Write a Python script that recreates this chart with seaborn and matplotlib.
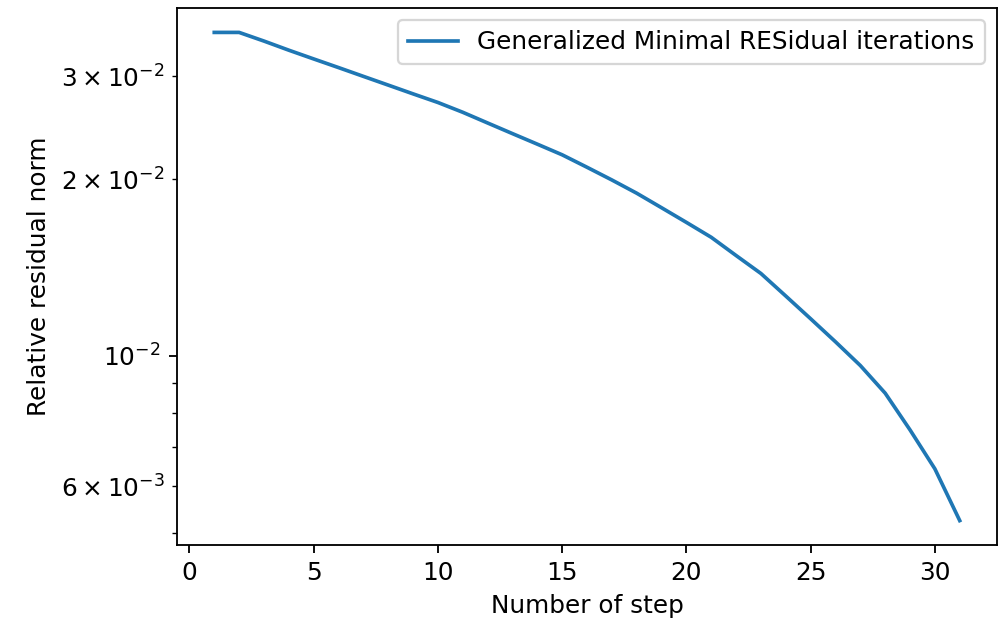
import matplotlib
matplotlib.use("Agg")
import matplotlib.pyplot as plt
import seaborn as sns
import pandas as pd

steps = list(range(1, 32))
residual_norm = [
    0.03560, 0.03560, 0.03441, 0.03320, 0.03208, 0.03101, 0.02996, 0.02895,
    0.02797, 0.02704, 0.02602, 0.02495, 0.02393, 0.02296, 0.02202, 0.02097,
    0.01995, 0.01894, 0.01789, 0.01689, 0.01593, 0.01483, 0.01382, 0.01265,
    0.01157, 0.01057, 0.00963, 0.00864, 0.00748, 0.00642, 0.00524,
]
series_label = "Generalized Minimal RESidual iterations"
x_label = "Number of step"
y_label = "Relative residual norm"

plt.rcParams["font.family"] = ["DejaVu Sans"]
FS = 10.8

df = pd.DataFrame({"step": steps, "norm": residual_norm})

DPI = 165
fig = plt.figure(figsize=(999 / DPI, 621 / DPI), dpi=DPI)
ax = fig.add_axes([177 / 999, (621 - 545) / 621, (997 - 177) / 999, (545 - 8) / 621])

sns.lineplot(data=df, x="step", y="norm", ax=ax, color="#1f77b4",
             linewidth=1.6, label=series_label)
ax.set_yscale("log")
ax.set_xlabel(x_label, fontsize=FS)
ax.set_ylabel(y_label, fontsize=FS)
ax.tick_params(axis="both", which="both", labelsize=FS)
ax.legend(loc="upper right", fontsize=FS)

fig.savefig("out.png", dpi=DPI)
